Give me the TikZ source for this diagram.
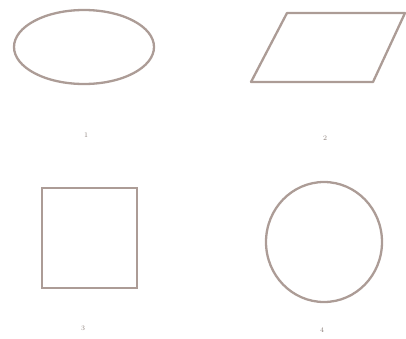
\documentclass[tikz,border=0pt]{standalone}
\usetikzlibrary{shapes.geometric}
\definecolor{shapec}{HTML}{AC9C96}
\definecolor{labc}{HTML}{8A7E78}
\tikzset{
  shapeline/.style={draw=shapec, line width=2.3pt},
  lab/.style={text=labc, font=\fontsize{7}{8}\selectfont, inner sep=0pt}
}
\begin{document}
\begin{tikzpicture}[x=1pt,y=-1pt]
\useasboundingbox (0,0) rectangle (406,338);
% ellipse
\node[shapeline, ellipse, minimum width=140pt, minimum height=74pt, inner sep=0pt] (e) at (84,47) {};
% parallelogram
\coordinate (p1) at (251,82);
\coordinate (p2) at (287,13);
\coordinate (p3) at (405,13);
\coordinate (p4) at (373,82);
\draw[shapeline, line join=round] (p1) -- (p2) -- (p3) -- (p4) -- cycle;
% square
\node[shapeline, rectangle, minimum width=95pt, minimum height=100pt, inner sep=0pt] (s) at (89.5,238) {};
% circle
\node[shapeline, ellipse, minimum width=116pt, minimum height=120pt, inner sep=0pt] (c) at (324,242) {};
% labels
\node[lab] (l1) at (86,135) {1};
\node[lab] (l2) at (325,138) {2};
\node[lab] (l3) at (83,328) {3};
\node[lab] (l4) at (322,330) {4};
\end{tikzpicture}
\end{document}
